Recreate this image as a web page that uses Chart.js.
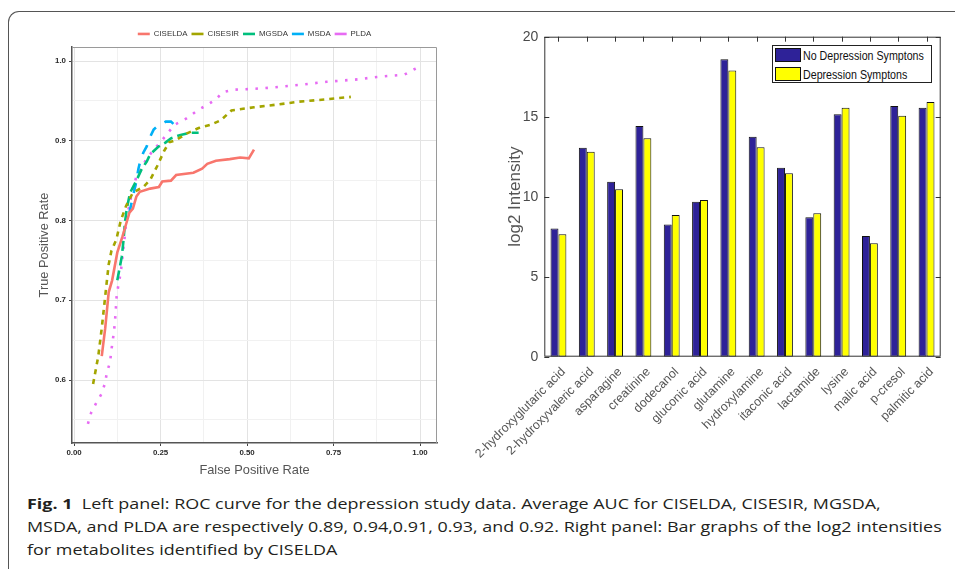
<!DOCTYPE html>
<html>
<head>
<meta charset="utf-8">
<script src="https://cdn.jsdelivr.net/npm/chart.js@4.4.0/dist/chart.umd.min.js"></script>
<style>
html,body{margin:0;padding:0;background:#fff;width:955px;height:569px;overflow:hidden;position:relative;}
#frame{position:absolute;left:8px;top:11px;width:980px;height:600px;border-top:1.5px solid #555;border-left:1.5px solid #555;border-top-left-radius:11px;box-sizing:border-box;}
#leftCv{position:absolute;left:0;top:0;}
#rightCv{position:absolute;left:466px;top:15px;}
#legendR{position:absolute;left:772px;top:45px;width:160px;height:38px;border:1px solid #222;background:#fff;box-sizing:border-box;font-family:"Liberation Sans",sans-serif;font-size:13px;color:#111;}
#legendR .row{position:absolute;left:2px;height:15px;line-height:15px;white-space:nowrap;}
#legendR .sw{display:inline-block;width:26px;height:14px;border:1px solid #111;box-sizing:border-box;vertical-align:top;margin-right:2px;}
#legendR .tx{display:inline-block;transform:scaleX(0.82);transform-origin:left center;vertical-align:top;}
#caption{position:absolute;left:27px;top:492px;font-family:"Open Sans",sans-serif;font-size:15px;line-height:23px;color:#231f20;white-space:nowrap;transform:scaleX(1.195);transform-origin:left top;}
#caption b{font-weight:700;}
</style>
</head>
<body>
<div id="frame"></div>
<canvas id="leftCv" width="455" height="485"></canvas>
<canvas id="rightCv" width="489" height="475"></canvas>
<div id="legendR"></div>
<div id="caption"><b>Fig. 1</b>&nbsp; Left panel: ROC curve for the depression study data. Average AUC for CISELDA, CISESIR, MGSDA,<br>MSDA, and PLDA are respectively 0.89, 0.94,0.91, 0.93, and 0.92. Right panel: Bar graphs of the log2 intensities<br>for metabolites identified by CISELDA</div>
<script>
// ---------------- ROC data (false positive rate, true positive rate) ----------------
const rocCISELDA = [[0.08,0.63],[0.09,0.665],[0.10,0.71],[0.11,0.725],[0.125,0.76],[0.14,0.78],[0.15,0.795],[0.16,0.81],[0.17,0.815],[0.18,0.83],[0.19,0.836],[0.22,0.84],[0.245,0.842],[0.255,0.849],[0.28,0.85],[0.295,0.857],[0.345,0.86],[0.37,0.865],[0.385,0.871],[0.41,0.875],[0.45,0.877],[0.48,0.879],[0.505,0.878],[0.52,0.889]];
const rocCISESIR = [[0.055,0.595],[0.07,0.63],[0.08,0.665],[0.09,0.705],[0.10,0.745],[0.108,0.762],[0.122,0.776],[0.135,0.8],[0.15,0.818],[0.17,0.835],[0.2,0.842],[0.22,0.851],[0.24,0.868],[0.26,0.887],[0.275,0.898],[0.295,0.901],[0.325,0.909],[0.36,0.916],[0.395,0.92],[0.425,0.926],[0.455,0.938],[0.52,0.942],[0.58,0.945],[0.65,0.949],[0.73,0.952],[0.80,0.955]];
const rocMGSDA = [[0.125,0.725],[0.138,0.755],[0.143,0.776],[0.147,0.797],[0.152,0.814],[0.162,0.835],[0.18,0.85],[0.195,0.864],[0.21,0.874],[0.22,0.883],[0.245,0.893],[0.265,0.898],[0.28,0.903],[0.305,0.907],[0.335,0.91],[0.36,0.91]];
const rocMSDA = [[0.16,0.81],[0.17,0.83],[0.178,0.845],[0.186,0.865],[0.19,0.872],[0.2,0.885],[0.21,0.893],[0.22,0.905],[0.23,0.914],[0.24,0.918],[0.265,0.924],[0.28,0.924],[0.29,0.92]];
const rocPLDA = [[0.04,0.545],[0.05,0.56],[0.065,0.572],[0.08,0.583],[0.09,0.597],[0.095,0.61],[0.104,0.622],[0.107,0.635],[0.112,0.65],[0.116,0.664],[0.119,0.678],[0.121,0.691],[0.123,0.705],[0.128,0.719],[0.135,0.735],[0.138,0.747],[0.145,0.774],[0.152,0.803],[0.16,0.82],[0.17,0.84],[0.18,0.855],[0.196,0.866],[0.21,0.878],[0.235,0.891],[0.255,0.901],[0.29,0.92],[0.325,0.928],[0.36,0.939],[0.385,0.945],[0.41,0.952],[0.43,0.961],[0.46,0.964],[0.515,0.965],[0.58,0.967],[0.65,0.97],[0.73,0.974],[0.82,0.977],[0.875,0.98],[0.955,0.983],[0.985,0.99],[1.0,0.993]];
const rocNames = ['CISELDA','CISESIR','MGSDA','MSDA','PLDA'];
const rocX_ticks = [0,0.125,0.25,0.375,0.5,0.625,0.75,0.875,1.0];
const rocY_ticks = [0.55,0.6,0.65,0.7,0.75,0.8,0.85,0.9,0.95,1.0];

// ---------------- Bar data ----------------
const metabolites = ['2-hydroxyglutaric acid','2-hydroxyvaleric acid','asparagine','creatinine','dodecanol','gluconic acid','glutamine','hydroxylamine','itaconic acid','lactamide','lysine','malic acid','p-cresol','palmitic acid'];
const noDepression = [8.02,13.06,10.94,14.42,8.27,9.69,18.59,13.75,11.81,8.71,15.15,7.54,15.67,15.56];
const depression   = [7.65,12.81,10.46,13.65,8.86,9.79,17.88,13.09,11.46,8.96,15.56,7.09,15.06,15.92];
const barLegend = ['No Depression Symptons','Depression Symptons'];
const barY_ticks = [0,5,10,15,20];

// ---------------- styles ----------------
const rocColors = ['#F8766D','#A3A500','#00BF7D','#00B0F6','#E76BF3'];
const rocDashes = [[],[5,5],[10,5],[10,10],[2.5,7.5]];
const barColors = ['#2e2298','#ffff00'];

// ---------------- left: ROC ----------------
const isMult = (v,step)=>Math.abs(v/step - Math.round(v/step))<1e-6;
const framePlugin = {
  id:'ggFrame',
  afterDraw(chart){
    const {ctx, chartArea:a} = chart;
    ctx.save();
    ctx.strokeStyle='#9a9a9a'; ctx.lineWidth=1;
    ctx.beginPath();
    ctx.moveTo(a.left, a.top+0.5); ctx.lineTo(a.right-0.5, a.top+0.5); ctx.lineTo(a.right-0.5, a.bottom);
    ctx.stroke();
    ctx.restore();
  }
};
const legendGap = {
  id:'legendGap',
  afterInit(chart){
    const lg = chart.legend; const fit = lg.fit;
    lg.fit = function(){ fit.call(this); this.height = 21; };
  }
};
const leftFont = 'Liberation Sans';
new Chart(document.getElementById('leftCv'), {
  type:'scatter',
  data:{datasets:[rocCISELDA,rocCISESIR,rocMGSDA,rocMSDA,rocPLDA].map((pts,i)=>({
    label:rocNames[i],
    data:pts.map(p=>({x:p[0],y:p[1]})),
    showLine:true, borderColor:rocColors[i], backgroundColor:rocColors[i],
    borderWidth:2.6, borderDash:rocDashes[i], borderCapStyle:'butt',
    pointRadius:0, pointHoverRadius:0, tension:0, fill:false
  }))},
  options:{
    responsive:false, animation:false, devicePixelRatio:1,
    layout:{padding:{left:30,right:18,top:26,bottom:0}},
    plugins:{
      legend:{position:'top', fullSize:false, labels:{usePointStyle:true, pointStyle:'line', pointStyleWidth:12, font:{family:leftFont,size:7.9}, color:'#333', padding:4}},
      tooltip:{enabled:false}
    },
    scales:{
      x:{type:'linear', min:-0.006, max:1.049,
        afterBuildTicks:s=>{s.ticks=rocX_ticks.map(v=>({value:v}));},
        afterFit:s=>{s.height=42;},
        ticks:{autoSkip:false, maxRotation:0, padding:2, font:{family:leftFont,size:7.9,weight:'bold'}, color:'#2a2a2a',
          callback:v=>isMult(v,0.25)?v.toFixed(2):''},
        grid:{color:c=>isMult(c.tick.value,0.25)?'#e3e3e3':'#f1f1f1', lineWidth:1, tickLength:3,
          tickColor:c=>isMult(c.tick.value,0.25)?'#444':'rgba(0,0,0,0)'},
        border:{color:'#555',width:1.5},
        title:{display:true,text:'False Positive Rate',font:{family:leftFont,size:12.8},color:'#555',padding:{top:0,bottom:7}}
      },
      y:{type:'linear', min:0.521, max:1.0176,
        afterBuildTicks:s=>{s.ticks=rocY_ticks.map(v=>({value:v}));},
        afterFit:s=>{s.width=42;},
        ticks:{autoSkip:false, padding:3, font:{family:leftFont,size:7.9,weight:'bold'}, color:'#2a2a2a',
          callback:v=>isMult(v,0.1)?v.toFixed(1):''},
        grid:{color:c=>isMult(c.tick.value,0.1)?'#e3e3e3':'#f1f1f1', lineWidth:1, tickLength:3,
          tickColor:c=>isMult(c.tick.value,0.1)?'#444':'rgba(0,0,0,0)'},
        border:{color:'#555',width:1.5},
        title:{display:true,text:'True Positive Rate',font:{family:leftFont,size:12.8},color:'#555',padding:{top:7,bottom:0}}
      }
    }
  },
  plugins:[framePlugin, legendGap]
});

// ---------------- right: bars ----------------
const matlabBox = {
  id:'matlabBox',
  afterDraw(chart){
    const {ctx, chartArea:a, scales} = chart;
    ctx.save();
    ctx.strokeStyle='#333'; ctx.lineWidth=1;
    ctx.strokeRect(a.left+0.5, a.top+0.5, a.width-1, a.height-1);
    ctx.beginPath();
    scales.y.ticks.forEach(t=>{
      const py = Math.round(scales.y.getPixelForValue(t.value))+0.5;
      ctx.moveTo(a.left, py); ctx.lineTo(a.left+5, py);
      ctx.moveTo(a.right, py); ctx.lineTo(a.right-5, py);
    });
    scales.x.ticks.forEach((t,i)=>{
      const px = Math.round(scales.x.getPixelForTick(i))+0.5;
      ctx.moveTo(px, a.top); ctx.lineTo(px, a.top+5);
    });
    ctx.stroke();
    ctx.restore();
  }
};
const rightFont = 'Liberation Sans';
new Chart(document.getElementById('rightCv'), {
  type:'bar',
  data:{labels:metabolites, datasets:[
    {label:barLegend[0], data:noDepression, backgroundColor:barColors[0], borderColor:'#111', borderWidth:1, borderSkipped:false},
    {label:barLegend[1], data:depression, backgroundColor:barColors[1], borderColor:'#111', borderWidth:1, borderSkipped:false}
  ]},
  options:{
    responsive:false, animation:false, devicePixelRatio:1,
    layout:{padding:{left:29,right:14.3,top:21.7,bottom:0}},
    datasets:{bar:{categoryPercentage:0.56, barPercentage:1.0}},
    plugins:{legend:{display:false}, tooltip:{enabled:false}},
    scales:{
      x:{afterFit:s=>{s.height=133.3; s.paddingLeft=0; s.paddingRight=0;},
        ticks:{autoSkip:false, maxRotation:45, minRotation:45, padding:8, labelOffset:5, font:{family:rightFont,size:12.5}, color:'#555'},
        grid:{display:false, drawTicks:false}, border:{display:false}},
      y:{min:0, max:20,
        afterBuildTicks:s=>{s.ticks=barY_ticks.map(v=>({value:v}));},
        afterFit:s=>{s.width=49.3; s.paddingTop=0; s.paddingBottom=0;},
        ticks:{padding:6, font:{family:rightFont,size:14}, color:'#4a4a4a'},
        grid:{display:false, drawTicks:false}, border:{display:false},
        title:{display:true,text:'log2 Intensity',font:{family:rightFont,size:17},color:'#555',padding:{top:10,bottom:0}}
      }
    }
  },
  plugins:[matlabBox]
});

// HTML legend for right chart
const lr = document.getElementById('legendR');
barLegend.forEach((name,i)=>{
  const row = document.createElement('div');
  row.className='row'; row.style.top = (2 + i*18.5)+'px';
  const sw = document.createElement('span'); sw.className='sw'; sw.style.background=barColors[i];
  const tx = document.createElement('span'); tx.className='tx'; tx.textContent=name;
  row.appendChild(sw); row.appendChild(tx);
  lr.appendChild(row);
});
</script>
</body>
</html>
